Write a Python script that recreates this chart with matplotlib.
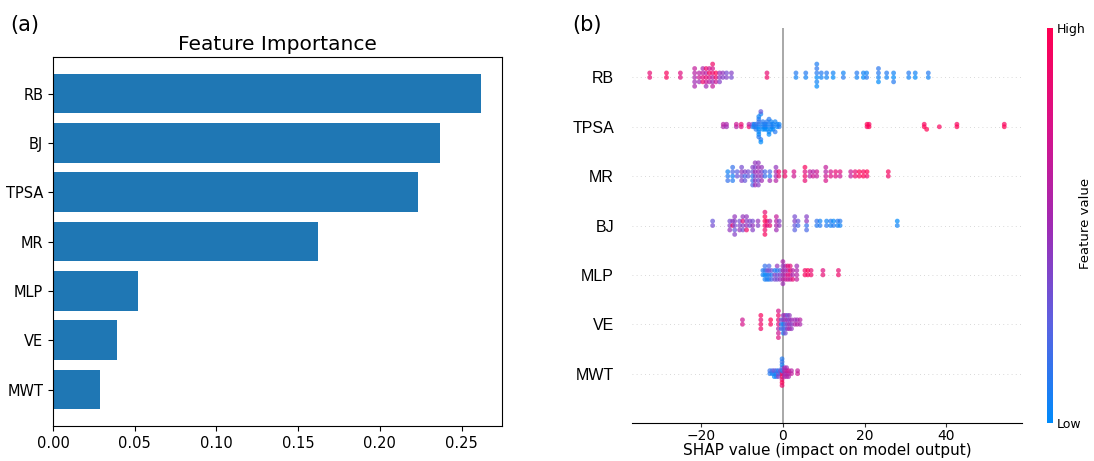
import numpy as np
import matplotlib
matplotlib.use('Agg')
import matplotlib.pyplot as plt
from matplotlib.colors import LinearSegmentedColormap

# (a) feature importance, bottom to top
imp_features = ['MWT', 'VE', 'MLP', 'MR', 'TPSA', 'BJ', 'RB']
imp_values = [0.0287, 0.0389, 0.0520, 0.1620, 0.2231, 0.2366, 0.2616]

# (b) SHAP values and (normalised) feature values, one pair of lists per feature
rb_shap = [-32.6, -32.6, -28.5, -28.5, -25.1, -25.1,
           -21.6, -21.6, -21.6, -21.6, -21.6, -20.5, -20.5, -20.5,
           -19.6, -19.6, -19.6, -19.6, -18.8, -18.8, -18.8, -18.8, -18.8,
           -18.0, -18.0, -18.0, -18.0, -17.2, -17.2, -17.2, -17.2, -17.2, -17.2,
           -16.4, -16.4, -16.4, -15.5, -15.5, -15.5, -14.7, -14.7, -13.8, -13.8,
           -12.6, -12.6, -3.9, -3.9,
           3.2, 3.2, 5.6, 5.6, 8.3, 8.3, 8.3, 8.3, 8.3, 8.3, 9.4, 9.4,
           10.7, 10.7, 12.3, 12.3, 14.8, 14.8, 18.1, 18.1, 19.7, 19.7, 20.5, 20.5,
           23.4, 23.4, 23.4, 23.4, 25.4, 25.4, 27.1, 27.1, 27.1,
           30.8, 30.8, 32.4, 32.4, 35.6, 35.6]
rb_val = [0.85, 0.85, 0.95, 0.95, 0.8, 0.8,
          0.55, 0.6, 0.5, 0.65, 0.55, 0.7, 0.6, 0.5,
          0.8, 0.65, 0.9, 0.55, 0.85, 0.6, 0.7, 0.9, 0.5,
          0.75, 0.95, 0.6, 0.7, 0.6, 0.85, 0.5, 0.75, 0.65, 0.9,
          0.9, 1.0, 0.7, 0.45, 0.5, 0.4, 0.4, 0.45, 0.4, 0.35,
          0.35, 0.4, 0.9, 0.85,
          0.05, 0.1, 0.05, 0.1, 0.0, 0.1, 0.05, 0.12, 0.0, 0.08, 0.05, 0.1,
          0.05, 0.1, 0.0, 0.05, 0.1, 0.05, 0.05, 0.1, 0.0, 0.05, 0.1, 0.05,
          0.05, 0.1, 0.0, 0.12, 0.05, 0.1, 0.0, 0.05, 0.1,
          0.05, 0.1, 0.0, 0.05, 0.05, 0.1]

tpsa_shap = [-14.6, -14.6, -13.8, -13.8, -11.4, -11.4, -10.2, -10.2, -8.3, -8.3,
             -7.4, -7.4, -7.0, -7.0, -6.6, -6.6, -6.6,
             -5.9, -5.9, -5.9, -5.9, -5.9, -5.9, -5.9, -5.9, -5.9,
             -5.4, -5.4, -5.4, -5.4, -4.9, -4.9, -4.9, -4.9, -4.4, -4.4, -4.4,
             -3.9, -3.9, -3.9, -3.9, -3.4, -3.4, -3.4, -2.9, -2.9, -2.9, -2.9,
             -2.4, -2.4, -2.4, -1.9, -1.9, -1.4, -1.4, -0.9, -0.9,
             20.6, 20.6, 21.1, 21.1, 34.6, 34.6, 35.2, 38.3, 42.6, 42.6, 54.2, 54.2]
tpsa_val = [0.55, 0.6, 0.5, 0.55, 0.6, 0.7, 0.8, 0.85, 0.9, 0.6,
            0.05, 0.3, 0.1, 0.0, 0.05, 0.15, 0.1,
            0.05, 0.1, 0.0, 0.15, 0.05, 0.1, 0.0, 0.05, 0.1,
            0.05, 0.1, 0.3, 0.0, 0.1, 0.05, 0.0, 0.1, 0.05, 0.1, 0.0,
            0.1, 0.05, 0.0, 0.1, 0.05, 0.1, 0.0, 0.05, 0.1, 0.0, 0.05,
            0.1, 0.05, 0.0, 0.05, 0.1, 0.0, 0.05, 0.1, 0.05,
            0.95, 1.0, 1.0, 0.95, 1.0, 0.95, 1.0, 0.95, 1.0, 0.95, 1.0, 0.95]

mr_shap = [-13.5, -13.5, -13.5, -12.3, -12.3, -12.3, -12.3, -11.2, -11.2,
           -10.1, -10.1, -10.1, -10.1, -9.3, -9.3, -9.3, -8.5, -8.5,
           -7.4, -7.4, -7.4, -7.4, -7.4, -6.8, -6.8, -6.8, -6.8, -6.8, -6.8,
           -6.0, -6.0, -6.0, -6.0, -6.0, -6.0, -5.2, -5.2, -5.2, -5.2,
           -4.4, -4.4, -3.2, -3.2, -3.2, -1.7, -1.7, -1.7, -1.7, -1.0, -1.0,
           0.5, 0.5, 2.7, 2.7, 5.4, 5.4, 5.4, 5.4, 6.6, 6.6, 7.4, 7.4, 8.3, 8.3,
           10.5, 10.5, 10.5, 10.5, 11.7, 11.7, 12.9, 12.9, 14.0, 14.0, 16.6, 16.6,
           17.7, 17.7, 18.7, 18.7, 19.7, 19.7, 20.6, 20.6, 25.8, 25.8]
mr_val = [0.1, 0.05, 0.15, 0.05, 0.2, 0.1, 0.15, 0.3, 0.25,
          0.35, 0.45, 0.4, 0.35, 0.2, 0.4, 0.3, 0.3, 0.35,
          0.1, 0.3, 0.15, 0.4, 0.2, 0.4, 0.5, 0.45, 0.4, 0.5, 0.45,
          0.45, 0.5, 0.35, 0.5, 0.4, 0.45, 0.45, 0.4, 0.5, 0.45,
          0.15, 0.2, 0.1, 0.2, 0.5, 0.5, 0.55, 0.6, 0.45, 0.85, 0.9,
          0.9, 0.85, 0.7, 0.75, 0.9, 0.8, 0.85, 0.95, 0.6, 0.65, 0.7, 0.6, 0.65, 0.7,
          0.7, 0.6, 0.75, 0.65, 0.8, 0.75, 0.8, 0.85, 0.7, 0.8, 0.65, 0.7,
          0.9, 0.85, 0.95, 1.0, 1.0, 0.95, 0.9, 1.0, 0.9, 0.95]

bj_shap = [-17.2, -17.2, -13.0, -13.0, -13.0, -12.3, -12.3,
           -11.8, -11.8, -11.8, -11.8, -11.8, -10.6, -10.6, -10.6,
           -9.8, -9.8, -9.8, -9.8, -8.9, -8.9, -8.9, -8.9, -8.1, -8.1,
           -7.4, -7.4, -7.4, -6.1, -6.1,
           -4.4, -4.4, -4.4, -4.4, -4.4, -4.4, -3.9, -3.9, -3.2, -3.2,
           -1.6, -1.6, -1.6, -1.6, -0.9, -0.9,
           2.9, 2.9, 2.9, 2.9, 3.7, 3.7, 5.8, 5.8, 5.8, 5.8,
           8.3, 8.3, 9.1, 9.1, 10.7, 10.7, 11.7, 11.7, 12.4, 12.4,
           13.4, 13.4, 14.0, 14.0, 28.0, 28.0]
bj_val = [0.35, 0.3, 0.4, 0.35, 0.45, 0.9, 0.45,
          0.35, 0.4, 0.3, 0.45, 0.4, 0.4, 0.35, 0.45,
          0.4, 0.85, 0.35, 0.45, 0.5, 0.4, 0.9, 0.45, 0.35, 0.4,
          0.45, 0.35, 0.4, 0.4, 0.45,
          0.95, 1.0, 0.9, 1.0, 0.95, 0.85, 0.8, 0.9, 0.85, 0.6,
          0.55, 0.6, 0.5, 0.65, 0.45, 0.4,
          0.3, 0.4, 0.25, 0.35, 0.2, 0.3, 0.15, 0.45, 0.2, 0.4,
          0.1, 0.15, 0.1, 0.05, 0.1, 0.05, 0.05, 0.1, 0.1, 0.0,
          0.05, 0.1, 0.05, 0.1, 0.05, 0.0]

mlp_shap = [-4.9, -4.9, -4.4, -4.4, -4.4, -4.4, -3.9, -3.9, -3.9,
            -3.4, -3.4, -3.4, -3.4, -2.8, -2.8, -2.8, -2.0, -2.0, -2.0,
            -1.4, -1.4, -1.4, -1.4, -0.7, -0.7, -0.7,
            0.0, 0.0, 0.0, 0.0, 0.0, 0.0, 0.6, 0.6, 0.6, 0.6,
            1.2, 1.2, 1.2, 1.2, 1.8, 1.8, 1.8, 1.8, 2.4, 2.4, 2.4,
            3.4, 3.4, 3.4, 3.4, 5.4, 5.4, 6.1, 6.1, 6.9, 6.9,
            9.8, 9.8, 13.6, 13.6]
mlp_val = [0.05, 0.1, 0.0, 0.1, 0.05, 0.15, 0.05, 0.3, 0.1,
           0.1, 0.35, 0.05, 0.2, 0.1, 0.3, 0.2, 0.4, 0.1, 0.35,
           0.3, 0.1, 0.35, 0.45, 0.4, 0.2, 0.45,
           0.5, 0.55, 0.6, 0.45, 0.5, 0.55, 0.6, 0.5, 0.65, 0.55,
           0.8, 0.6, 0.7, 0.85, 0.75, 0.9, 0.65, 0.8, 0.55, 0.6, 0.85,
           0.6, 0.55, 0.65, 0.5, 0.95, 0.9, 0.95, 1.0, 0.9, 0.85,
           0.85, 0.8, 0.9, 0.85]

ve_shap = [-9.9, -9.9, -5.4, -5.4, -5.4, -5.4, -3.0, -3.0,
           -1.1, -1.1, -1.1, -1.1, -1.1, -1.1, -1.1,
           -0.4, -0.4, -0.4, 0.1, 0.1, 0.1, 0.1, 0.1, 0.6, 0.6, 0.6, 0.6, 0.6,
           1.1, 1.1, 1.1, 1.1, 1.6, 1.6, 1.6, 1.6, 2.1, 2.1, 2.1,
           2.9, 2.9, 3.5, 3.5, 4.2, 4.2]
ve_val = [0.75, 0.7, 0.9, 0.85, 0.9, 0.95, 0.95, 1.0,
          0.8, 0.85, 0.6, 0.9, 0.7, 0.75, 0.8,
          0.1, 0.3, 0.15, 0.05, 0.4, 0.2, 0.45, 0.1, 0.3, 0.45, 0.2, 0.5, 0.35,
          0.4, 0.5, 0.45, 0.3, 0.5, 0.4, 0.55, 0.45, 0.4, 0.5, 0.45,
          0.55, 0.5, 0.6, 0.5, 0.55, 0.6]

mwt_shap = [-3.2, -3.2, -2.6, -2.6, -2.1, -2.1, -2.1, -1.6, -1.6, -1.6,
            -1.1, -1.1, -1.1, -0.6, -0.6,
            -0.2, -0.2, -0.2, -0.2, -0.2, -0.2, -0.2, -0.2, -0.2, -0.2,
            0.4, 0.4, 0.4, 0.4, 0.9, 0.9, 0.9, 0.9, 1.4, 1.4, 1.4,
            2.1, 2.1, 3.6, 3.6]
mwt_val = [0.1, 0.15, 0.05, 0.2, 0.1, 0.3, 0.0, 0.05, 0.2, 0.1,
           0.3, 0.1, 0.4, 0.2, 0.35,
           0.9, 0.1, 0.95, 0.2, 0.85, 0.05, 1.0, 0.15, 0.9, 0.1,
           0.5, 0.6, 0.45, 0.55, 0.55, 0.65, 0.6, 0.5, 0.6, 0.7, 0.55,
           0.65, 0.6, 0.7, 0.65]

shap_features = ['MWT', 'VE', 'MLP', 'BJ', 'MR', 'TPSA', 'RB']  # bottom to top
shap_data = {
    'RB': (rb_shap, rb_val), 'TPSA': (tpsa_shap, tpsa_val), 'MR': (mr_shap, mr_val),
    'BJ': (bj_shap, bj_val), 'MLP': (mlp_shap, mlp_val), 'VE': (ve_shap, ve_val),
    'MWT': (mwt_shap, mwt_val),
}

# colour map similar to shap's red_blue
red_blue = LinearSegmentedColormap.from_list(
    'red_blue', ['#008bfb', '#5c62e2', '#a02bb4', '#d8128a', '#ff0052'])


def swarm_offsets(vals, row_height=0.4, nbins=100):
    # same binning idea as shap's beeswarm
    vals = np.asarray(vals, dtype=float)
    quant = np.round(nbins * (vals - vals.min()) / (vals.max() - vals.min() + 1e-8))
    order = np.argsort(quant, kind='stable')
    ys = np.zeros(len(vals))
    layer = 0
    last_bin = None
    for i in order:
        if quant[i] != last_bin:
            layer = 0
        ys[i] = np.ceil(layer / 2) * ((layer % 2) * 2 - 1)
        layer += 1
        last_bin = quant[i]
    ys *= 0.9 * (row_height / np.max(ys + 1))
    return ys


fig = plt.figure(figsize=(10.94, 4.61), dpi=100)

# ---- (a) bar chart
ax1 = fig.add_axes([0.0484, 0.0759, 0.4104, 0.8004])
ax1.barh(imp_features, imp_values, color='#1f77b4')
ax1.set_title('Feature Importance', fontsize=14.5, pad=5)
ax1.tick_params(axis='both', labelsize=10.5)
fig.text(0.009, 0.945, '(a)', fontsize=15, ha='left', va='center')

# ---- (b) beeswarm
ax2 = fig.add_axes([0.5777, 0.0824, 0.3565, 0.8568])
ax2.axvline(0, color='#999999', lw=1.2, zorder=-1)
for pos, name in enumerate(shap_features):
    sv, fv = shap_data[name]
    ax2.axhline(pos, color='#cccccc', lw=0.6, dashes=(1, 4), zorder=-2)
    ys = swarm_offsets(sv)
    ax2.scatter(sv, pos + ys, c=fv, cmap=red_blue, vmin=0, vmax=1,
                s=12, alpha=0.7, linewidths=0, zorder=3)

ax2.set_ylim(-1, len(shap_features))
ax2.set_yticks(range(len(shap_features)))
ax2.set_yticklabels(shap_features, fontsize=11.5, family='Liberation Sans')
ax2.tick_params(axis='y', length=0, pad=13)
ax2.tick_params(axis='x', labelsize=10, color='#333333', length=3, pad=1)
for side in ['top', 'right', 'left']:
    ax2.spines[side].set_visible(False)
ax2.set_xlabel('SHAP value (impact on model output)', fontsize=11, labelpad=0)
fig.text(0.523, 0.945, '(b)', fontsize=15, ha='left', va='center')

# ---- colour bar
cax = fig.add_axes([0.9567, 0.0824, 0.0052, 0.8568])
grad = np.linspace(0, 1, 256).reshape(-1, 1)
cax.imshow(grad, aspect='auto', cmap=red_blue, origin='lower', extent=[0, 1, 0, 1])
cax.set_xticks([])
cax.yaxis.tick_right()
cax.set_yticks([0, 1])
cax.set_yticklabels(['Low', 'High'], fontsize=9)
cax.tick_params(axis='y', length=0, pad=3)
for sp in cax.spines.values():
    sp.set_visible(False)
fig.text(0.998, 0.515, 'Feature value', rotation=90, fontsize=9.5, ha='right', va='center')

plt.savefig('out.png', dpi=100)
